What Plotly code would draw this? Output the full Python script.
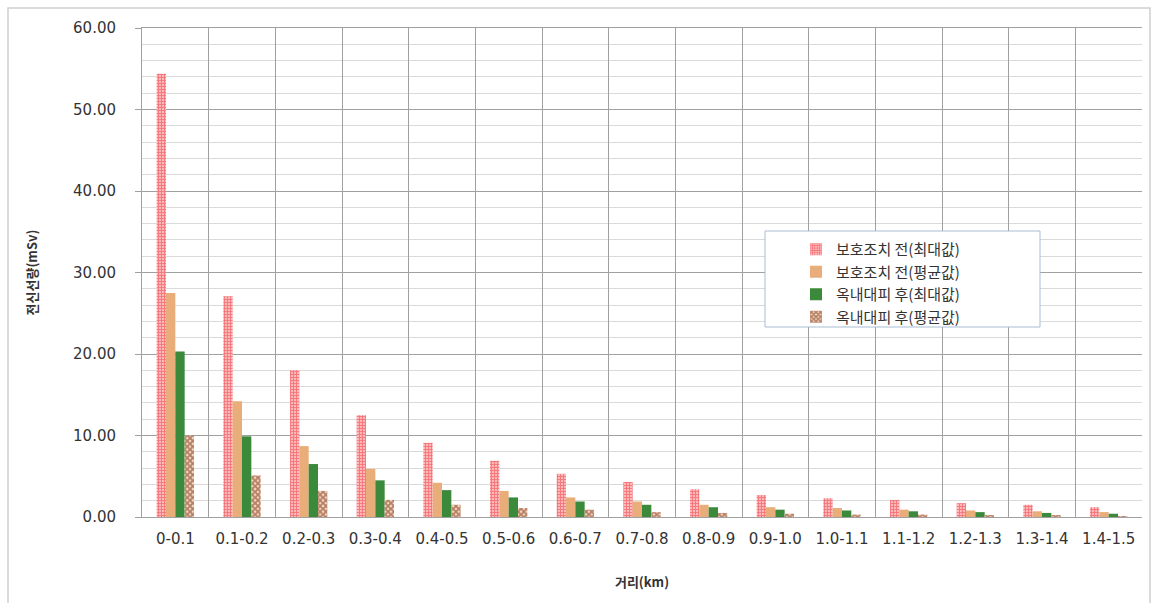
import plotly.graph_objects as go

# Distance bands (km)
distance_bands = ["0-0.1", "0.1-0.2", "0.2-0.3", "0.3-0.4", "0.4-0.5", "0.5-0.6",
                  "0.6-0.7", "0.7-0.8", "0.8-0.9", "0.9-1.0", "1.0-1.1", "1.1-1.2",
                  "1.2-1.3", "1.3-1.4", "1.4-1.5"]

# Whole-body dose (mSv)
before_max = [54.4, 27.1, 18.0, 12.5, 9.1, 6.9, 5.3, 4.3, 3.4, 2.7, 2.3, 2.1, 1.7, 1.5, 1.2]
before_avg = [27.5, 14.2, 8.7, 5.9, 4.2, 3.2, 2.4, 1.9, 1.5, 1.2, 1.1, 0.9, 0.8, 0.7, 0.6]
shelter_max = [20.3, 9.9, 6.5, 4.5, 3.3, 2.4, 1.9, 1.5, 1.2, 0.9, 0.8, 0.7, 0.6, 0.5, 0.4]
shelter_avg = [10.0, 5.1, 3.2, 2.1, 1.5, 1.1, 0.9, 0.6, 0.5, 0.4, 0.3, 0.3, 0.2, 0.2, 0.1]

series_names = ["보호조치 전(최대값)", "보호조치 전(평균값)", "옥내대피 후(최대값)", "옥내대피 후(평균값)"]

W, H = 1155, 603
L, R, T, B = 142, 13, 28, 86
PW, PH = W - L - R, H - T - B


def px(x):
    return (x - L) / PW


def py(y):
    return (H - B - y) / PH


KR = "Noto Sans CJK KR"
NUM = "DejaVu Sans"

fig = go.Figure()

fig.add_trace(go.Bar(
    x=distance_bands, y=before_max, name=series_names[0],
    marker=dict(color="#ffb3b3", line=dict(width=0),
                pattern=dict(shape="+", fgcolor="#e8303c", bgcolor="#ffb8b8", size=3, solidity=0.5)),
))
fig.add_trace(go.Bar(
    x=distance_bands, y=before_avg, name=series_names[1],
    marker=dict(color="#e8ad78", line=dict(width=0)),
))
fig.add_trace(go.Bar(
    x=distance_bands, y=shelter_max, name=series_names[2],
    marker=dict(color="#3b8a3b", line=dict(width=0)),
))
fig.add_trace(go.Bar(
    x=distance_bands, y=shelter_avg, name=series_names[3],
    marker=dict(color="#f6dcc0", line=dict(width=0),
                pattern=dict(shape="x", fgcolor="#7a200c", bgcolor="#f3dcc0", size=4, solidity=0.7)),
))

# Outer chart frame and legend box
fig.add_shape(type="rect", xref="paper", yref="paper",
              x0=px(8), x1=px(1150), y0=py(640), y1=py(8),
              line=dict(color="#cfcfcf", width=1.5), fillcolor="rgba(0,0,0,0)", layer="below")
fig.add_shape(type="rect", xref="paper", yref="paper",
              x0=px(765), x1=px(1040), y0=py(327), y1=py(231),
              line=dict(color="#a9bcd6", width=1), fillcolor="white", layer="above")

fig.update_layout(
    width=W, height=H,
    margin=dict(l=L, r=R, t=T, b=B),
    paper_bgcolor="white", plot_bgcolor="white",
    barmode="group", bargap=0.44, bargroupgap=0.0,
    showlegend=True,
    legend=dict(x=px(796), y=py(233), xanchor="left", yanchor="top",
                bgcolor="rgba(0,0,0,0)", borderwidth=0,
                font=dict(family=KR, size=15, color="#333333"),
                tracegroupgap=0, itemwidth=30),
    xaxis=dict(
        type="category", tickson="boundaries", ticks="",
        showgrid=True, gridcolor="#a0a0a0", gridwidth=1,
        showline=True, linecolor="#a0a0a0", linewidth=1, mirror=True,
        ticklabelstandoff=8,
        tickfont=dict(family=NUM, size=15, color="#333333"),
        title=dict(text="<b>거리(km)</b>", font=dict(family=KR, size=13, color="#333333"), standoff=30),
    ),
    yaxis=dict(
        range=[0, 60], dtick=10, tickformat=".2f",
        showgrid=True, gridcolor="#a0a0a0", gridwidth=1,
        minor=dict(dtick=2, showgrid=True, gridcolor="#dadada", gridwidth=1),
        showline=True, linecolor="#a0a0a0", linewidth=1,
        ticks="outside", ticklen=6, tickcolor="#a0a0a0",
        ticklabelstandoff=16,
        tickfont=dict(family=NUM, size=15, color="#333333"),
        title=dict(text="<b>전신선량(mSv)</b>", font=dict(family=KR, size=13, color="#333333"), standoff=32),
        zeroline=False,
    ),
)

fig.write_html("out.html")
